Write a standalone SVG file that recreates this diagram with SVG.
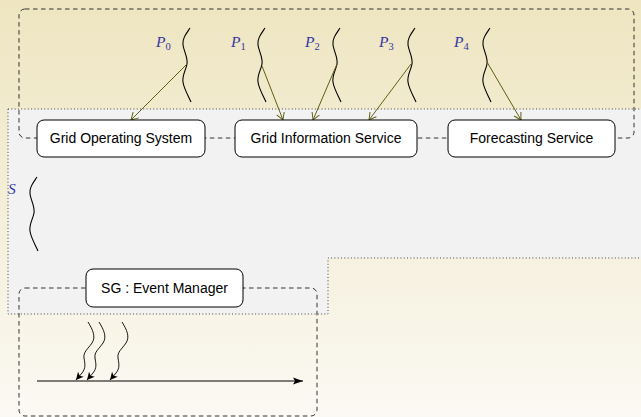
<svg xmlns="http://www.w3.org/2000/svg" xmlns:xlink="http://www.w3.org/1999/xlink" width="641" height="417" viewBox="0 0 641 417">
<style>
.node rect{fill:#fff;stroke:#000;stroke-width:1}
.node text{font-family:"Liberation Sans",Arial,sans-serif;font-size:14px;fill:#000;text-anchor:middle}
.lbl{font-family:"Liberation Serif","Times New Roman",serif;font-style:italic;font-size:15.5px;fill:#3535a5}
.lbl tspan{font-style:normal;font-size:10.5px}
.wave{fill:none;stroke:#000;stroke-width:1.1}
.dash{fill:none;stroke:#333;stroke-width:1;stroke-dasharray:4.5 3.5}
.olive{fill:none;stroke:#5f5f12;stroke-width:1;marker-end:url(#to)}
.sq{fill:none;stroke:#000;stroke-width:0.9;marker-end:url(#st)}
</style>
<defs>
<linearGradient id="bg" x1="0" y1="0" x2="0" y2="1">
<stop offset="0" stop-color="#eee5c0"/>
<stop offset="1" stop-color="#fbf9f3"/>
</linearGradient>
<marker id="to" markerWidth="12" markerHeight="12" refX="0" refY="0" viewBox="-8 -6 10 12" orient="auto" markerUnits="userSpaceOnUse">
<path d="M-7,-4 Q-2,-1 0,0 Q-2,1 -7,4" fill="none" stroke="#5f5f12" stroke-width="1"/>
</marker>
<marker id="st" markerWidth="10" markerHeight="10" refX="0" refY="0" viewBox="-7 -4 8 8" orient="auto" markerUnits="userSpaceOnUse">
<path d="M-6,-3 L0,0 L-6,3 L-4.5,0 Z" fill="#000"/>
</marker>
<marker id="stl" markerWidth="14" markerHeight="10" refX="0" refY="0" viewBox="-11 -5 12 10" orient="auto" markerUnits="userSpaceOnUse">
<path d="M-10,-3.5 L0,0 L-10,3.5 L-8,0 Z" fill="#000"/>
</marker>
<path id="wv" d="M0,0 C-4,6 -8,11 -7,17 C-6,24 -2,29 -3,36 C-4,42 -8,47 -7,54 C-6,61 -2,67 1,74"/>
<path id="sqp" d="M88,322 C93,330 96,337 92,343 C88,349 83,352 84,358 C85,364 86,368 82,373 L76,380"/>
</defs>
<rect width="641" height="417" fill="url(#bg)"/>
<g id="regions">
<path d="M8,109 H645 V258 H328 V314 H8 Z" fill="#f2f2f2" stroke="#444" stroke-width="1" stroke-dasharray="1 2.3"/>
<rect class="dash" x="19" y="9" width="615" height="129" rx="6"/>
<rect class="dash" x="19" y="288" width="298" height="128" rx="6"/>
</g>
<g id="processes">
<use href="#wv" class="wave" transform="translate(190,28)"/>
<use href="#wv" class="wave" transform="translate(265,28)"/>
<use href="#wv" class="wave" transform="translate(340,28)"/>
<use href="#wv" class="wave" transform="translate(415,28)"/>
<use href="#wv" class="wave" transform="translate(490,28)"/>
<use href="#wv" class="wave" transform="translate(37,177)"/>
<text class="lbl" x="156" y="47">P<tspan dy="3">0</tspan></text>
<text class="lbl" x="231" y="47">P<tspan dy="3">1</tspan></text>
<text class="lbl" x="305" y="47">P<tspan dy="3">2</tspan></text>
<text class="lbl" x="379" y="47">P<tspan dy="3">3</tspan></text>
<text class="lbl" x="454" y="47">P<tspan dy="3">4</tspan></text>
<text class="lbl" x="8" y="194">S</text>
</g>
<g id="connectors">
<path class="olive" d="M187,64 L131,120"/>
<path class="olive" d="M262,66 L283,120"/>
<path class="olive" d="M337,64 L313,120"/>
<path class="olive" d="M411,64 L369,120"/>
<path class="olive" d="M487,62 L521,120"/>
</g>
<g id="gos" class="node"><rect x="37" y="120" width="168" height="37" rx="7"/><text x="121" y="143">Grid Operating System</text></g>
<g id="gis" class="node"><rect x="235" y="120" width="182" height="37" rx="7"/><text x="326" y="143">Grid Information Service</text></g>
<g id="fs" class="node"><rect x="448" y="120" width="167" height="37" rx="7"/><text x="531.5" y="143">Forecasting Service</text></g>
<g id="sg" class="node"><rect x="86" y="269" width="157" height="38" rx="7"/><text x="164.5" y="293">SG : Event Manager</text></g>
<g id="timeline">
<path d="M37,381 H303" fill="none" stroke="#000" stroke-width="1.1" marker-end="url(#stl)"/>
<use href="#sqp" class="sq"/>
<use href="#sqp" class="sq" transform="translate(11,0)"/>
<use href="#sqp" class="sq" transform="translate(34,0)"/>
</g>
</svg>
